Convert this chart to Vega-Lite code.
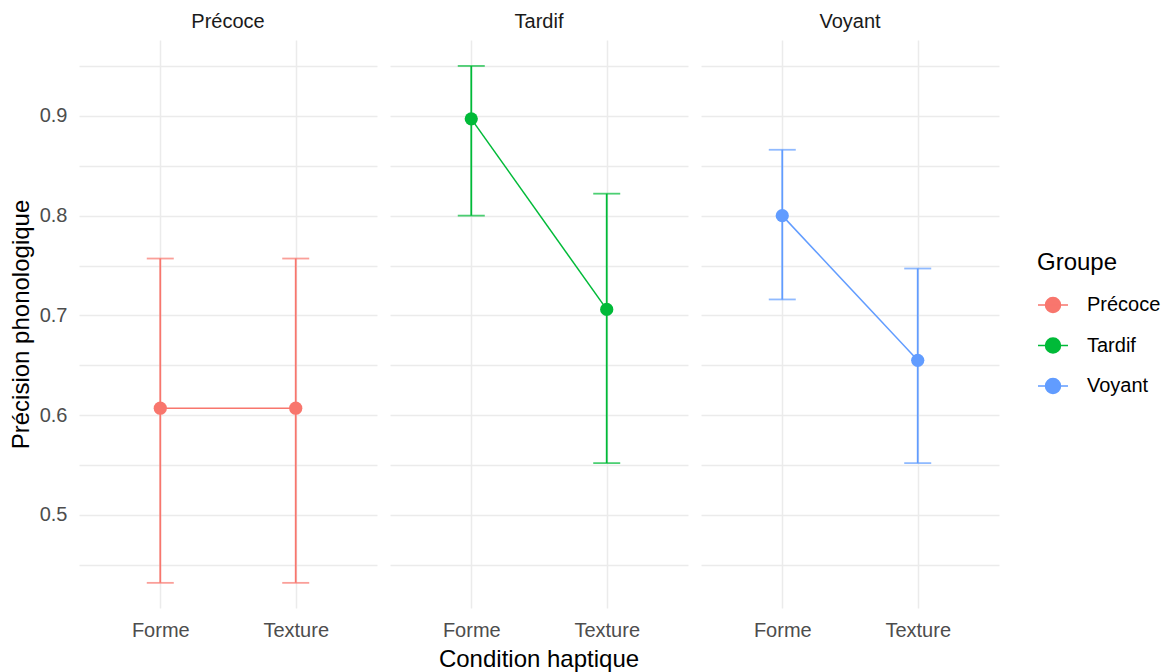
{
  "$schema": "https://vega.github.io/schema/vega-lite/v6.json",
  "background": "white",
  "padding": {"left": 9, "top": 12, "right": 5, "bottom": 5},
  "config": {
    "font": "Liberation Sans",
    "view": {"stroke": null},
    "axis": {"domain": false, "ticks": false, "gridColor": "#EBEBEB", "gridWidth": 1.5, "labelColor": "#4D4D4D", "labelFontSize": 20, "titleFontSize": 24, "titleFontWeight": "normal", "titleColor": "#000000", "labelFont": "Liberation Sans", "titleFont": "Liberation Sans"},
    "header": {"labelFont": "Liberation Sans", "titleFont": "Liberation Sans"},
    "legend": {"labelFont": "Liberation Sans", "titleFont": "Liberation Sans"}
  },
  "data": {
    "values": [
      {"Groupe": "Précoce", "Condition": "Forme", "moyenne": 0.607, "bas": 0.432, "haut": 0.757},
      {"Groupe": "Précoce", "Condition": "Texture", "moyenne": 0.607, "bas": 0.432, "haut": 0.757},
      {"Groupe": "Tardif", "Condition": "Forme", "moyenne": 0.897, "bas": 0.800, "haut": 0.950},
      {"Groupe": "Tardif", "Condition": "Texture", "moyenne": 0.706, "bas": 0.552, "haut": 0.822},
      {"Groupe": "Voyant", "Condition": "Forme", "moyenne": 0.800, "bas": 0.716, "haut": 0.866},
      {"Groupe": "Voyant", "Condition": "Texture", "moyenne": 0.655, "bas": 0.552, "haut": 0.747}
    ]
  },
  "facet": {
    "column": {
      "field": "Groupe", "type": "nominal", "title": "Condition haptique",
      "header": {"labelOrient": "top", "titleOrient": "bottom", "labelFontSize": 20, "labelColor": "#1A1A1A", "labelPadding": 8, "titleFontSize": 24, "titleColor": "#000000", "titlePadding": -2, "titleFontWeight": "normal"}
    }
  },
  "spacing": 13,
  "spec": {
    "width": 298,
    "height": 568,
    "encoding": {
      "x": {"field": "Condition", "type": "nominal", "title": null, "scale": {"type": "point", "padding": 0.6}, "axis": {"labelAngle": 0, "labelPadding": 12, "grid": true}},
      "color": {"field": "Groupe", "type": "nominal", "scale": {"domain": ["Précoce", "Tardif", "Voyant"], "range": ["#F8766D", "#00BA38", "#619CFF"]},
        "legend": {"title": "Groupe", "titleFontSize": 24, "titleFontWeight": "normal", "titleColor": "#000000", "labelFontSize": 20, "labelColor": "#000000", "orient": "none", "legendX": 958, "legendY": 211, "titlePadding": 14, "rowPadding": 13.5, "labelOffset": 18,
          "symbolType": "M-1,0L1,0M-0.5,0A0.5,0.5,0,1,1,0.5,0A0.5,0.5,0,1,1,-0.5,0Z", "symbolSize": 900, "symbolStrokeWidth": 1.5,
          "encode": {"symbols": {"update": {"fill": {"scale": "color", "field": "value"}, "stroke": {"scale": "color", "field": "value"}, "opacity": {"value": 1}}}}}}
    },
    "layer": [
      {
        "mark": {"type": "rule", "strokeWidth": 1.8},
        "encoding": {
          "y": {"field": "bas", "type": "quantitative", "title": "Précision phonologique",
            "scale": {"domain": [0.4068, 0.976], "nice": false, "zero": false},
            "axis": {"values": [0.45, 0.5, 0.55, 0.6, 0.65, 0.7, 0.75, 0.8, 0.85, 0.9, 0.95], "labelExpr": "round(datum.value*100) % 10 == 0 ? format(datum.value, '.1f') : ''", "labelPadding": 12, "titlePadding": 6}},
          "y2": {"field": "haut"}
        }
      },
      {"mark": {"type": "tick", "size": 27, "thickness": 1.8}, "encoding": {"y": {"field": "bas", "type": "quantitative"}}},
      {"mark": {"type": "tick", "size": 27, "thickness": 1.8}, "encoding": {"y": {"field": "haut", "type": "quantitative"}}},
      {"mark": {"type": "line", "strokeWidth": 1.5}, "encoding": {"y": {"field": "moyenne", "type": "quantitative"}}},
      {"mark": {"type": "point", "filled": true, "size": 175, "opacity": 1}, "encoding": {"y": {"field": "moyenne", "type": "quantitative"}}}
    ]
  }
}
